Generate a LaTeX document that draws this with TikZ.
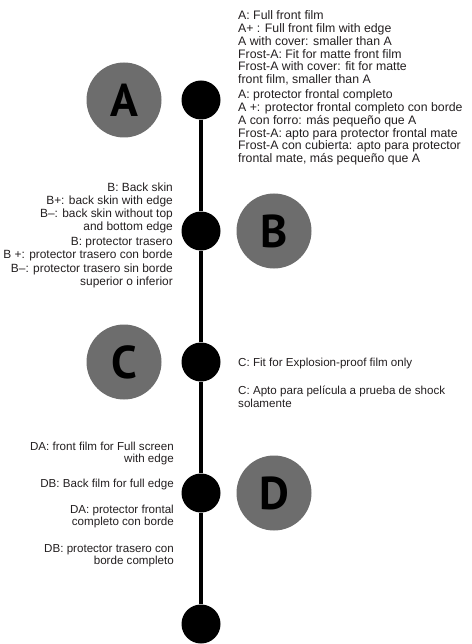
\documentclass[tikz,border=0pt]{standalone}
\usepackage{fontspec}
\setmainfont{Liberation Sans}
\newfontfamily\badgefont{PT Sans}
\usetikzlibrary{positioning}
\definecolor{badgegrey}{HTML}{6D6D6D}
\definecolor{inkblack}{HTML}{231F20}

\begin{document}
\begin{tikzpicture}[x=1pt, y=-1pt, node distance=131pt, on grid,
    dot/.style={shape=circle, fill=black, minimum size=39pt, inner sep=0pt},
    badge/.style={shape=circle, fill=badgegrey, minimum size=75pt, inner sep=0pt, text=black, font=\badgefont\fontsize{46}{46}\selectfont\bfseries},
    info/.style={inner sep=0pt, text=inkblack},
    infotop/.style={info, font=\fontsize{12.3}{12.8}\selectfont},
    infomid/.style={info, font=\fontsize{11.9}{13.2}\selectfont},
    infolow/.style={info, font=\fontsize{11.6}{12.6}\selectfont}]

    \useasboundingbox (0,0) rectangle (471,644);

    % Define the timeline dots (nodes)
    \node[dot] (dA) at (201,100) {};
    \node[dot, below=of dA] (dB) {};
    \node[dot, below=of dB] (dC) {};
    \node[dot, below=of dC] (dD) {};
    \node[dot, below=of dD] (dEnd) {}; % last dot, no label

    % grey letter badges
    \node[badge, left=77pt of dA] (bA) {A};
    \node[badge, right=73pt of dB] (bB) {B};
    \node[badge, left=77pt of dC] (bC) {C};
    \node[badge, right=73pt of dD] (bD) {D};

    % Define the timeline (edges)
    \path[draw=black, line width=4pt]
    (dA) edge (dB)
    (dB) edge (dC)
    (dC) edge (dD)
    (dD) edge (dEnd);

    % descriptions
    \node[infotop, anchor=north west, align=left] (tAen) at (238,10.5) {A: Full front film\\A+ : Full front film with edge\\A with cover: smaller than A\\Frost-A: Fit for matte front film\\Frost-A with cover: fit for matte\\front film, smaller than A};
    \node[infotop, anchor=north west, align=left] (tAes) at (238,89.5) {A: protector frontal completo\\A +: protector frontal completo con borde\\A con forro: más pequeño que A\\Frost-A: apto para protector frontal mate\\Frost-A con cubierta: apto para protector\\frontal mate, más pequeño que A};
    \node[infomid, anchor=north east, align=right] (tBen) at (173,182.4) {B: Back skin\\B+: back skin with edge\\B–: back skin without top\\and bottom edge};
    \node[infomid, anchor=north east, align=right] (tBes) at (173,237.4) {B: protector trasero\\B +: protector trasero con borde\\B–:  protector trasero sin borde\\superior o inferior};
    \node[infolow, anchor=north west, align=left] (tCen) at (238,357.7) {C: Fit for Explosion-proof film only};
    \node[infolow, anchor=north west, align=left] (tCes) at (238,385.7) {C: Apto para película a prueba de shock\\solamente};
    \node[infolow, anchor=north east, align=right] (tDAen) at (174,441.4) {DA: front film for Full screen\\with edge};
    \node[infolow, anchor=north east, align=right] (tDBen) at (174,479) {DB: Back film for full edge};
    \node[infolow, anchor=north east, align=right] (tDAes) at (174,504.7) {DA: protector frontal\\completo con borde};
    \node[infolow, anchor=north east, align=right] (tDBes) at (174,544) {DB: protector trasero con\\borde completo};
\end{tikzpicture}
\end{document}
